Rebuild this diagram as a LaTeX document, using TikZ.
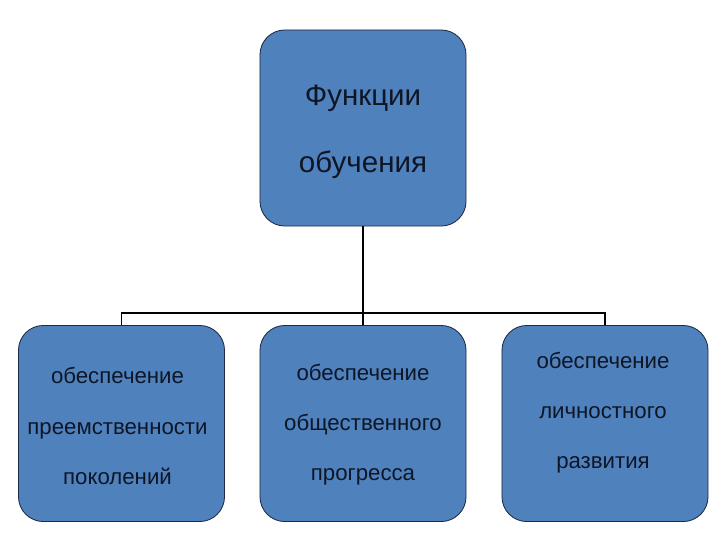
\documentclass[tikz,border=0pt]{standalone}
\usepackage{fontspec}
\setmainfont{Liberation Sans}
\usepackage{tikz}

\definecolor{boxblue}{HTML}{4F81BD}
\definecolor{boxline}{HTML}{1C2A44}
\definecolor{boxtext}{HTML}{0E1626}

\begin{document}
\begin{tikzpicture}[x=0.025cm,y=-0.025cm,
    box/.style={draw=boxline, fill=boxblue, line width=0.6pt,
        rounded corners=0.62cm,
        minimum width=5.15cm, minimum height=4.9cm},
    small/.style={text=boxtext, align=center,
        font=\fontsize{15.8}{35.6}\selectfont},
    big/.style={text=boxtext, align=center,
        font=\fontsize{21}{47.6}\selectfont}]
        \useasboundingbox (0,0) rectangle (720,540);

        % Functions
        \node [box] (functions) at (363,128){};
        \node [big] (functionstext) at (363,131.5){Функции\\обучения};

        % continuity
        \node [box] (continuity) at (121.5,423.5){};
        \node [small] (continuitytext) at (117.5,426){обеспечение\\преемственности\\поколений};

        % progress
        \node [box] (progress) at (363,423.5){};
        \node [small] (progresstext) at (363,424.5){обеспечение\\общественного\\прогресса};

        % development
        \node [box] (development) at (605,423.5){};
        \node [small] (developmenttext) at (603,413){обеспечение\\личностного\\развития};

        \coordinate (bus) at (363,313);
        \draw[line width=1.4pt] (functions.south)--(bus);
        \draw[line width=1pt] (bus) -| (continuity.north);
        \draw[line width=1pt] (bus) -| (development.north);
        \draw[line width=1pt] (bus)--(progress.north);
\end{tikzpicture}
\end{document}
